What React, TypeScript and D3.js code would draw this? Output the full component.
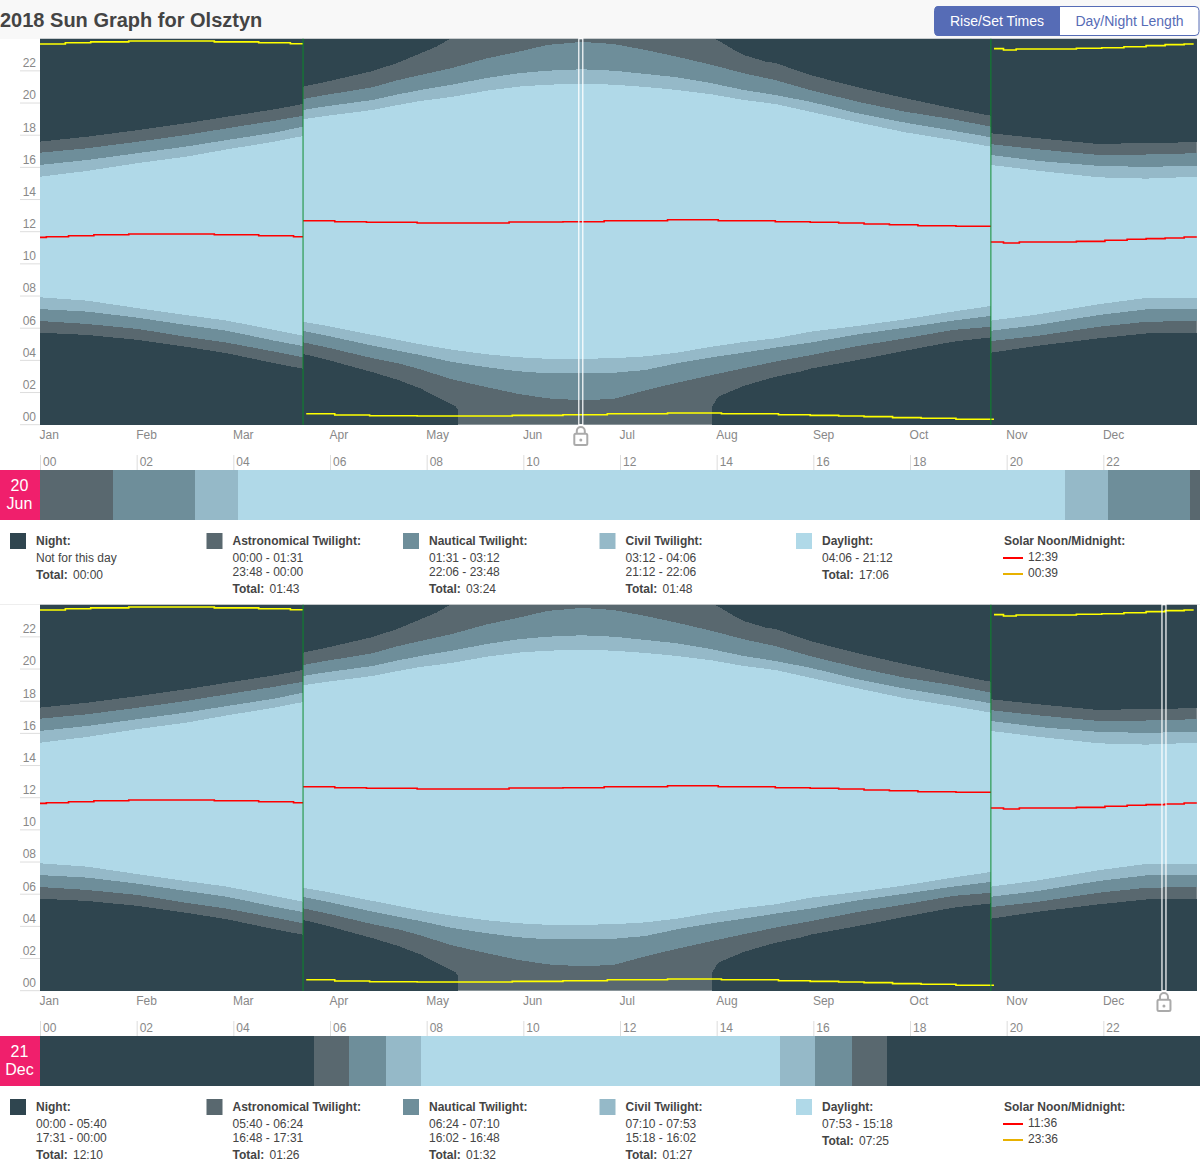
import React from 'react';
import * as d3 from 'd3';

const MONTHS = ['Jan', 'Feb', 'Mar', 'Apr', 'May', 'Jun', 'Jul', 'Aug', 'Sep', 'Oct', 'Nov', 'Dec'];
const HOUR_TICKS = ['00', '02', '04', '06', '08', '10', '12', '14', '16', '18', '20', '22'];

// clock change days, a repeated day in the lists below means the times jump there
const DST_DAYS = [83, 300];

const DAYS = [0, 15, 31, 46, 59, 74, 83, 83, 90, 105, 113, 120, 130, 141, 151, 160, 171, 181, 191, 201, 212, 222, 232, 243, 258, 273, 288, 300, 300, 315, 334, 349, 365];
const NAUTICAL_DAWN = [6.45, 6.26, 5.95, 5.47, 5.10, 4.54, 4.19, 5.12, 4.83, 4.13, 3.82, 3.44, 2.82, 2.33, 1.91, 1.64, 1.52, 1.60, 2.14, 2.61, 3.09, 3.51, 3.92, 4.32, 4.89, 5.37, 5.89, 6.09, 5.20, 5.53, 6.09, 6.40, 6.45];
const CIVIL_DAWN = [7.19, 7.03, 6.65, 6.20, 5.84, 5.22, 4.89, 5.83, 5.56, 4.91, 4.60, 4.33, 3.90, 3.57, 3.32, 3.20, 3.20, 3.23, 3.40, 3.82, 4.19, 4.48, 4.79, 5.10, 5.62, 6.03, 6.47, 6.76, 5.84, 6.20, 6.82, 7.17, 7.18];
const SUNRISE = [7.92, 7.71, 7.24, 6.82, 6.47, 5.89, 5.53, 6.40, 6.16, 5.58, 5.27, 5.00, 4.66, 4.38, 4.19, 4.10, 4.10, 4.13, 4.25, 4.48, 4.85, 5.14, 5.37, 5.78, 6.14, 6.55, 7.03, 7.38, 6.47, 6.86, 7.49, 7.88, 7.86];
const SUNSET = [15.42, 15.78, 16.27, 16.66, 17.12, 17.60, 17.95, 18.99, 19.19, 19.57, 19.88, 20.13, 20.38, 20.77, 21.02, 21.14, 21.20, 21.14, 21.00, 20.81, 20.54, 20.19, 19.94, 19.46, 18.80, 18.18, 17.70, 17.29, 16.15, 15.79, 15.38, 15.30, 15.42];
const CIVIL_DUSK = [16.15, 16.46, 16.89, 17.29, 17.70, 18.16, 18.53, 19.57, 19.79, 20.19, 20.54, 20.81, 21.14, 21.56, 21.85, 22.01, 22.10, 22.01, 21.81, 21.60, 21.23, 20.81, 20.50, 20.08, 19.36, 18.78, 18.28, 17.87, 16.77, 16.40, 16.09, 16.03, 16.10];
const NAUTICAL_DUSK = [16.91, 17.19, 17.60, 18.01, 18.43, 18.90, 19.21, 20.25, 20.50, 20.98, 21.43, 21.74, 22.18, 22.78, 23.19, 23.61, 23.80, 23.67, 23.30, 22.88, 22.37, 21.85, 21.43, 20.81, 20.08, 19.46, 18.99, 18.53, 17.44, 17.12, 16.77, 16.80, 16.88];

// night stops existing around midsummer, null marks that gap
const NIGHT_END_DAYS = [0, 15, 31, 46, 59, 74, 83, 83, 90, 105, 113, 120, 126, 131, 132, 170, 212, 214, 222, 232, 240, 243, 258, 273, 288, 300, 300, 315, 334, 349, 365];
const NIGHT_END = [5.72, 5.58, 5.27, 4.85, 4.44, 3.82, 3.48, 4.40, 4.07, 3.26, 2.78, 2.26, 1.64, 1.16, 0.87, null, 1.12, 1.74, 2.41, 2.98, 3.30, 3.48, 4.02, 4.60, 5.16, 5.43, 4.48, 4.91, 5.37, 5.67, 5.68];
const NIGHT_START_DAYS = [0, 15, 31, 46, 59, 74, 83, 83, 90, 105, 113, 120, 125, 129, 170, 213, 219, 222, 229, 232, 240, 243, 258, 273, 288, 300, 300, 315, 334, 349, 365];
const NIGHT_START = [17.60, 17.91, 18.32, 18.74, 19.15, 19.61, 19.94, 21.02, 21.31, 21.99, 22.51, 23.09, 23.50, 23.95, null, 24, 23.30, 22.99, 22.57, 22.49, 21.95, 21.74, 20.98, 20.30, 19.67, 19.21, 18.12, 17.81, 17.45, 17.52, 17.56];

const NOON_DAYS = [0, 2, 9, 17, 28, 55, 69, 80, 83, 83, 93, 103, 119, 148, 165, 178, 198, 214, 232, 243, 252, 260, 268, 277, 289, 300, 300, 304, 309, 327, 336, 343, 349, 355, 361, 365];
const NOON = [11.65, 11.69, 11.75, 11.81, 11.86, 11.81, 11.75, 11.69, 11.69, 12.68, 12.62, 12.59, 12.54, 12.60, 12.62, 12.68, 12.74, 12.68, 12.62, 12.59, 12.54, 12.48, 12.43, 12.37, 12.34, 12.34, 11.36, 11.30, 11.36, 11.40, 11.47, 11.53, 11.57, 11.61, 11.67, 11.67];
const MIDNIGHT_DAYS = [0, 8, 16, 28, 55, 69, 79, 83, 83, 84, 93, 104, 119, 149, 165, 179, 198, 215, 233, 243, 252, 260, 269, 278, 289, 301, 301, 304, 308, 327, 335, 342, 349, 355, 361, 364];
const MIDNIGHT = [23.67, 23.75, 23.80, 23.86, 23.80, 23.75, 23.69, 23.69, null, 0.68, 0.60, 0.56, 0.54, 0.58, 0.62, 0.68, 0.73, 0.68, 0.62, 0.58, 0.54, 0.50, 0.44, 0.40, 0.34, 0.34, 23.38, 23.30, 23.36, 23.41, 23.44, 23.50, 23.57, 23.63, 23.67, 23.67];

const COLORS = {
  night: '#2f454f',
  astro: '#59686f',
  nautical: '#6e8e9a',
  civil: '#95b9c8',
  day: '#b0d9e8',
  noon: '#ff0000',
  midnight: '#ffff00',
  midnightKey: '#e8b100',
  pink: '#f01f6c',
  blue: '#566cb6',
  text: '#444444',
  tick: '#888888',
  rule: '#dddddd',
};

const JUNE_DAY = 170;
const JUNE_STRIP = [
  ['astro', 0, 1.517], ['nautical', 1.517, 3.2], ['civil', 3.2, 4.1], ['day', 4.1, 21.2],
  ['civil', 21.2, 22.1], ['nautical', 22.1, 23.8], ['astro', 23.8, 24],
];
const JUNE_LEGEND = [
  { title: 'Night:', key: 'night', lines: ['Not for this day'], total: '00:00' },
  { title: 'Astronomical Twilight:', key: 'astro', lines: ['00:00 - 01:31', '23:48 - 00:00'], total: '01:43' },
  { title: 'Nautical Twilight:', key: 'nautical', lines: ['01:31 - 03:12', '22:06 - 23:48'], total: '03:24' },
  { title: 'Civil Twilight:', key: 'civil', lines: ['03:12 - 04:06', '21:12 - 22:06'], total: '01:48' },
  { title: 'Daylight:', key: 'day', lines: ['04:06 - 21:12'], total: '17:06' },
];
const JUNE_SOLAR = ['12:39', '00:39'];

const DEC_DAY = 354;
const DEC_STRIP = [
  ['night', 0, 5.667], ['astro', 5.667, 6.4], ['nautical', 6.4, 7.167], ['civil', 7.167, 7.883], ['day', 7.883, 15.3],
  ['civil', 15.3, 16.033], ['nautical', 16.033, 16.8], ['astro', 16.8, 17.517], ['night', 17.517, 24],
];
const DEC_LEGEND = [
  { title: 'Night:', key: 'night', lines: ['00:00 - 05:40', '17:31 - 00:00'], total: '12:10' },
  { title: 'Astronomical Twilight:', key: 'astro', lines: ['05:40 - 06:24', '16:48 - 17:31'], total: '01:26' },
  { title: 'Nautical Twilight:', key: 'nautical', lines: ['06:24 - 07:10', '16:02 - 16:48'], total: '01:32' },
  { title: 'Civil Twilight:', key: 'civil', lines: ['07:10 - 07:53', '15:18 - 16:02'], total: '01:27' },
  { title: 'Daylight:', key: 'day', lines: ['07:53 - 15:18'], total: '07:25' },
];
const DEC_SOLAR = ['11:36', '23:36'];

const LEFT = 40;
const RIGHT = 1200;
const LEGEND_X = [10, 206.5, 403, 599.5, 796];

const xDay = d3.scaleLinear().domain([0, 366]).range([LEFT, RIGHT]);
const xHour = d3.scaleLinear().domain([0, 24]).range([LEFT, RIGHT]);
const yHour = d3.scaleLinear().domain([0, 24]).range([424.7, 38.7]);
const monthBand = d3.scaleBand().domain(MONTHS).range([LEFT, RIGHT]);
const hourBand = d3.scaleBand().domain(HOUR_TICKS).range([LEFT, RIGHT]);

type Pt = { d: number; a: number; b: number } | null;

// repeated days split the band in two, null values leave a hole
const bandPoints = (days: number[], lo: (number | null)[] | number, hi: (number | null)[] | number): Pt[] => {
  const out: Pt[] = [];
  days.forEach((d, i) => {
    if (i > 0 && days[i - 1] === d) out.push(null);
    const a = typeof lo === 'number' ? lo : lo[i];
    const b = typeof hi === 'number' ? hi : hi[i];
    out.push(a === null || b === null ? null : { d, a, b });
  });
  return out;
};

const bandPath = d3.area<Pt>()
  .defined(p => p !== null)
  .x(p => xDay(p!.d))
  .y0(p => yHour(p!.a))
  .y1(p => yHour(p!.b));

const stepPath = d3.line<Pt>()
  .defined(p => p !== null)
  .x(p => xDay(p!.d))
  .y(p => yHour(p!.a))
  .curve(d3.curveStepAfter);

const stepPoints = (days: number[], vals: (number | null)[]): Pt[] => {
  const out: Pt[] = [];
  days.forEach((d, i) => {
    if (vals[i] === null) {
      out.push(null);
    } else {
      if (i > 0 && days[i - 1] === d && vals[i - 1] !== null) out.push(null);
      out.push({ d, a: vals[i] as number, b: 0 });
    }
  });
  return out;
};

const SunChart = ({ top, selected }: { top: number; selected: number }) => {
  const bands: [string, string][] = [
    [COLORS.night, bandPath(bandPoints(NIGHT_END_DAYS, 0, NIGHT_END))!],
    [COLORS.night, bandPath(bandPoints(NIGHT_START_DAYS, NIGHT_START, 24))!],
    [COLORS.nautical, bandPath(bandPoints(DAYS, NAUTICAL_DAWN, NAUTICAL_DUSK))!],
    [COLORS.civil, bandPath(bandPoints(DAYS, CIVIL_DAWN, CIVIL_DUSK))!],
    [COLORS.day, bandPath(bandPoints(DAYS, SUNRISE, SUNSET))!],
  ];
  const sel = xDay(selected);
  return (
    <g transform={`translate(0, ${top})`}>
      <rect x={xDay(0)} y={yHour(24)} width={xDay(365) - xDay(0)} height={yHour(0) - yHour(24)} fill={COLORS.astro} />
      {bands.map(([fill, d], i) => <path key={i} d={d} fill={fill} shapeRendering="crispEdges" />)}
      <path d={stepPath(stepPoints(NOON_DAYS, NOON))!} fill="none" stroke={COLORS.noon} strokeWidth={1.6} />
      <path d={stepPath(stepPoints(MIDNIGHT_DAYS, MIDNIGHT))!} fill="none" stroke={COLORS.midnight} strokeWidth={1.6} />
      {DST_DAYS.map(d => (
        <line key={d} x1={xDay(d)} x2={xDay(d)} y1={yHour(24)} y2={yHour(0)} stroke="#0a8a2a" strokeOpacity={0.6} strokeWidth={1.6} />
      ))}

      {/* hour axis */}
      {d3.range(0, 24, 2).map(h => (
        <g key={h}>
          <line x1={20} x2={LEFT} y1={yHour(h)} y2={yHour(h)} stroke={COLORS.rule} />
          <text x={36} y={yHour(h) - 3.7} textAnchor="end" fontSize={12} fill={COLORS.tick}>{d3.format('02')(h)}</text>
        </g>
      ))}

      {/* month labels */}
      {MONTHS.map(m => (
        <text key={m} x={monthBand(m)! - 0.4} y={439} fontSize={12} fill={COLORS.tick}>{m}</text>
      ))}

      {/* selected day marker with its lock */}
      <rect x={sel} y={yHour(24)} width={4} height={yHour(0) - yHour(24)} fill="none" stroke="#ffffff" strokeWidth={1.2} />
      <g transform={`translate(${sel + 2}, 426)`} fill="none" stroke="#aaaaaa" strokeWidth={2}>
        <rect x={-6.5} y={7.7} width={13} height={11.3} rx={1.5} />
        <path d="M-4 7.7 V5 a4 4 0 0 1 8 0 V7.7" />
        <circle cx={0} cy={14} r={1.5} fill="#aaaaaa" stroke="none" />
      </g>
    </g>
  );
};

const DayStrip = ({ top, day, month, strip }: { top: number; day: string; month: string; strip: any[] }) => (
  <g transform={`translate(0, ${top})`}>
    {HOUR_TICKS.map(h => (
      <g key={h}>
        <line x1={hourBand(h)! + 0.5} x2={hourBand(h)! + 0.5} y1={455} y2={470} stroke={COLORS.rule} />
        <text x={hourBand(h)! + 3} y={466} fontSize={12} fill={COLORS.tick}>{h}</text>
      </g>
    ))}
    <rect x={0} y={470} width={LEFT} height={50} fill={COLORS.pink} />
    <text x={19.5} y={491} textAnchor="middle" fontSize={16} fill="#fff">{day}</text>
    <text x={19.5} y={509} textAnchor="middle" fontSize={16} fill="#fff">{month}</text>
    {strip.map(([key, from, to], i) => (
      <rect key={i} x={xHour(from)} y={470} width={xHour(to) - xHour(from)} height={50} fill={(COLORS as any)[key]} shapeRendering="crispEdges" />
    ))}
  </g>
);

const Legend = ({ top, items, solar }: { top: number; items: any[]; solar: string[] }) => (
  <g transform={`translate(0, ${top})`} fontSize={12} fill={COLORS.text}>
    {items.map((it, i) => {
      const x = LEGEND_X[i];
      const totalY = it.lines.length > 1 ? 593 : 579;
      return (
        <g key={it.title}>
          <rect x={x} y={533} width={16} height={16} fill={(COLORS as any)[it.key]} />
          <text x={x + 26} y={545} fontWeight="bold">{it.title}</text>
          {it.lines.map((l: string, j: number) => (
            <text key={j} x={x + 26} y={562 + j * 14}>{l}</text>
          ))}
          <text x={x + 26} y={totalY} fontWeight="bold">Total:</text>
          <text x={x + 63} y={totalY}>{it.total}</text>
        </g>
      );
    })}
    <text x={1004} y={545} fontWeight="bold">Solar Noon/Midnight:</text>
    <line x1={1003} x2={1023} y1={558} y2={558} stroke={COLORS.noon} strokeWidth={2} />
    <text x={1028} y={561}>{solar[0]}</text>
    <line x1={1003} x2={1023} y1={574} y2={574} stroke={COLORS.midnightKey} strokeWidth={2} />
    <text x={1028} y={577}>{solar[1]}</text>
  </g>
);

const App = () => (
  <>
    <style>{'body { margin: 0; }'}</style>
    <svg width={1200} height={1170} style={{ display: 'block', fontFamily: '"Liberation Sans", Arial, sans-serif' }}>
      <rect x={0} y={0} width={1200} height={39} fill="#f8f8f8" />
      <text x={0} y={27} fontSize={20} fontWeight="bold" fill={COLORS.text}>2018 Sun Graph for Olsztyn</text>

      <rect x={934.5} y={6.5} width={264.5} height={29} rx={4} fill="#fff" stroke={COLORS.blue} />
      <path d="M1060 6 H938.5 a4 4 0 0 0 -4 4 V32 a4 4 0 0 0 4 4 H1060 Z" fill={COLORS.blue} />
      <text x={997} y={26} textAnchor="middle" fontSize={14} fill="#fff">Rise/Set Times</text>
      <text x={1129.5} y={26} textAnchor="middle" fontSize={14} fill={COLORS.blue}>Day/Night Length</text>

      <SunChart top={0} selected={JUNE_DAY} />
      <DayStrip top={0} day="20" month="Jun" strip={JUNE_STRIP} />
      <Legend top={0} items={JUNE_LEGEND} solar={JUNE_SOLAR} />

      <line x1={0} x2={1200} y1={604.5} y2={604.5} stroke="#eeeeee" />

      <SunChart top={566} selected={DEC_DAY} />
      <DayStrip top={566} day="21" month="Dec" strip={DEC_STRIP} />
      <Legend top={566} items={DEC_LEGEND} solar={DEC_SOLAR} />
    </svg>
  </>
);

export default App;
